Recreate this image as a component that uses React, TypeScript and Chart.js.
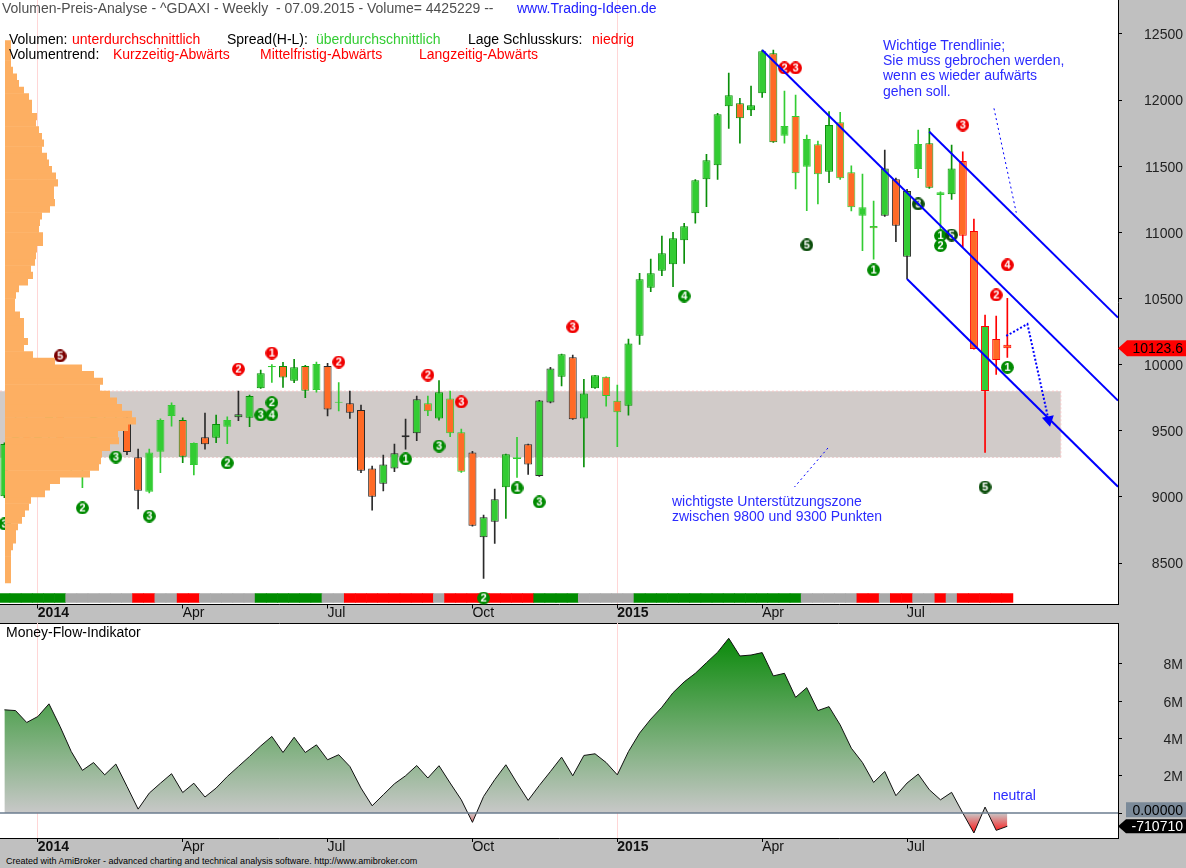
import React, { useEffect, useRef } from 'react';
import { Chart, registerables } from 'chart.js';

Chart.register(...registerables);

const FONT = "'Liberation Sans', Arial, Helvetica, sans-serif";

// ---------- weekly DAX bars, index 0 = week of 16.12.2013 ----------
const weekOpen = [
  9005, 9400, 9589, 9435, 9473, 9742, 9392, 9306, 9301, 9662,
  9657, 9600, 9300, 9039, 9342, 9612, 9581, 9241, 9451, 9448,
  9531, 9602, 9599, 9821, 9980, 9990, 9879, 9990, 9808, 9990,
  9712, 9708, 9657, 9216, 9100, 9216, 9451, 9481, 9708, 9594,
  9745, 9489, 9337, 8695, 8813, 9073, 9300, 9398, 9158, 9715,
  9909, 10056, 9594, 9821, 9909, 9727, 9690, 10219, 10582, 10710,
  10759, 10940, 11144, 11401, 11507, 11953, 11976, 11923, 12052, 12354,
  11731, 11880, 11497, 11666, 11459, 11832, 11454, 11126, 11048, 11126,
  11401, 10816, 11479, 11674, 11283, 11288, 11540, 11010, 9801, 10194,
  10150,
];
const weekHigh = [
  9410, 9600, 9620, 9500, 9790, 9760, 9440, 9330, 9670, 9720,
  9720, 9620, 9362, 9362, 9590, 9712, 9599, 9410, 9634, 9619,
  9606, 9801, 9771, 9960, 10000, 10018, 10040, 9995, 10020, 10010,
  9864, 9801, 9695, 9234, 9317, 9400, 9589, 9763, 9763, 9879,
  9801, 9513, 9345, 8863, 9060, 9325, 9451, 9400, 9730, 9980,
  10080, 10073, 9889, 9920, 9909, 9846, 10194, 10691, 10799, 10973,
  11001, 11069, 11400, 11590, 11900, 12205, 12014, 12107, 12379, 12379,
  12069, 12039, 11736, 11691, 11913, 11908, 11504, 11441, 11237, 11623,
  11410, 11326, 11774, 11787, 11306, 11661, 11610, 11101, 10375, 10368,
  10502,
];
const weekLow = [
  8995, 9380, 9390, 9280, 9440, 9390, 9200, 9070, 9290, 9590,
  9560, 9320, 8909, 9030, 9183, 9536, 9259, 9166, 9362, 9410,
  9403, 9576, 9531, 9820, 9865, 9829, 9864, 9750, 9793, 9612,
  9650, 9594, 9183, 8901, 9045, 9191, 9362, 9425, 9614, 9581,
  9455, 9185, 8780, 8385, 8649, 8838, 9148, 9171, 9155, 9710,
  9839, 9587, 9228, 9820, 9687, 9380, 9619, 10154, 10552, 10673,
  10589, 10766, 11069, 11194, 11401, 11787, 11674, 11882, 12021, 11681,
  11674, 11328, 11164, 11215, 11376, 11400, 11162, 10862, 10797, 11120,
  10930, 10648, 11413, 11333, 11018, 11250, 10892, 10118, 9337, 9927,
  10055,
];
const weekClose = [
  9400, 9589, 9435, 9473, 9742, 9392, 9306, 9301, 9662, 9657,
  9692, 9340, 9047, 9337, 9581, 9695, 9304, 9408, 9398, 9551,
  9581, 9625, 9763, 9935, 9990, 9904, 9980, 9803, 10005, 9662,
  9720, 9637, 9198, 9002, 9246, 9330, 9466, 9738, 9648, 9791,
  9481, 9191, 8782, 8846, 8982, 9322, 9287, 9246, 9730, 9972,
  10078, 9587, 9783, 9920, 9763, 9640, 10161, 10645, 10691, 10842,
  10955, 11046, 11394, 11545, 11893, 12037, 11863, 11961, 12369, 11681,
  11804, 11447, 11706, 11439, 11812, 11409, 11190, 11190, 11031, 11484,
  11051, 11313, 11668, 11338, 11303, 11484, 10975, 10118, 10292, 10035,
  10123.6,
];
// volume/spread class of each bar (outline + wick colour in the original)
const barTone = (
  'G' + 'LLLLLLLLLL' + 'KK' + 'LLL' + 'G' + 'L' + 'K' + 'G' + 'L' + 'K' + 'GG' + 'L' + 'GGG' + 'L' + 'K' + 'L' +
  'KKKKKKK' + 'L' + 'G' + 'LL' + 'KKK' + 'G' + 'L' + 'KKK' + 'G' + 'K' + 'GG' + 'LL' + 'GGGGGGGGGGGGGG' +
  'LLLL' + 'G' + 'LLLL' + 'KKK' + 'L' + 'G' + 'L' + 'G' + 'RRRRR'
).split('');
// trend ribbon state per bar: G = up, N = neutral, R = down
const ribbonState = (
  'GGGGGG' + 'NNNNNN' + 'RR' + 'NN' + 'RR' + 'NNNNN' + 'GGGGGG' + 'NN' + 'RRRRRRRR' + 'N' + 'RRRRRRRR' +
  'GGGG' + 'NNNNN' + 'GGGGGGGGGGGGGGG' + 'NNNNN' + 'RR' + 'N' + 'RR' + 'NN' + 'R' + 'N' + 'RRRRR'
).split('');

// ---------- money flow (one value per weekly bar) ----------
const moneyFlow = [
  5540000, 5500000, 4860000, 5180000, 5860000, 4640000, 3300000, 2290000, 2710000, 2050000,
  2630000, 1430000, 210000, 1070000, 1600000, 2110000, 1100000, 1600000, 860000, 1340000,
  1960000, 2500000, 3040000, 3600000, 4110000, 3250000, 4070000, 3250000, 3660000, 2860000,
  3130000, 2500000, 1340000, 390000, 980000, 1570000, 2000000, 2550000, 1880000, 2540000,
  1610000, 710000, -500000, 890000, 1790000, 2590000, 1610000, 680000, 1480000, 2230000,
  3000000, 2000000, 3090000, 3180000, 2710000, 2050000, 3300000, 4290000, 5040000, 5680000,
  6460000, 7040000, 7500000, 8070000, 8630000, 9380000, 8430000, 8480000, 8610000, 7360000,
  7500000, 6210000, 6730000, 5500000, 5710000, 4730000, 3480000, 2710000, 1640000, 2230000,
  930000, 1610000, 2090000, 1250000, 710000, 1110000, 0, -1070000, 320000, -930000,
  -710710,
];

// ---------- volume-at-price profile (50-point bins from 8350) ----------
const profileBinLow = 8350;
const profileBinSize = 50;
const profileVolume = [
  6, 6, 6, 6, 6, 8, 11, 11, 13, 17,
  20, 24, 26, 40, 45, 55, 85, 94, 96, 97,
  105, 114, 113, 123, 131, 127, 117, 112, 105, 95,
  98, 89, 77, 50, 28, 19, 23, 19, 19, 19,
  15, 10, 10, 11, 14, 23, 28, 26, 30, 31,
  32, 38, 38, 34, 35, 37, 45, 50, 49, 49,
  53, 51, 47, 44, 42, 37, 39, 37, 34, 31,
  32, 27, 27, 24, 19, 14, 12, 8, 6, 6,
  6, 6,
];

// ---------- signal badges ----------
const signalIndex = [0, 5, 7, 10, 13, 20, 21, 23, 24, 24, 24, 30, 36, 38, 39, 41, 43, 46, 48, 51, 61, 70, 71, 72, 78, 82, 84, 85, 84, 86, 88, 89, 90, 90];
const signalPrice = [8796, 10066, 8917, 9302, 8856, 9257, 9967, 9620, 9620, 9713, 10088, 10020, 9287, 9922, 9385, 9718, 8236, 9068, 8962, 10285, 10519, 12243, 12243, 10905, 10716, 11215, 10975, 10980, 10900, 11812, 9075, 10527, 10754, 9980];
const signalDigit = ['3', '5', '2', '3', '3', '2', '2', '3', '4', '2', '1', '2', '1', '2', '3', '3', '2', '1', '3', '3', '4', '2', '3', '5', '1', '3', '1', '5', '2', '3', '5', '2', '4', '1'];
const signalKind = ['G', 'M', 'G', 'G', 'G', 'G', 'R', 'G', 'G', 'G', 'R', 'R', 'G', 'R', 'G', 'R', 'G', 'G', 'G', 'R', 'G', 'R', 'R', 'D', 'G', 'D', 'G', 'D', 'G', 'R', 'D', 'R', 'R', 'G'];

// ---------- drawn lines (bar index, price) ----------
const trendMid = [[68, 12379], [99.93, 9729]];
const trendUpper = [[83, 11761], [99.93, 10356]];
const trendLower = [[81, 10648], [99.93, 9077]];
const guideNote = [[88.8, 11938], [90.8, 11149]];
const guideZone = [[73.9, 9370], [70.9, 9075]];
const guideArrow = [[89.9, 10217], [91.8, 10308], [93.7, 9582]];
const zoneHigh = 9800;
const zoneLow = 9300;
const zoneEnd = 94.8;

// ---------- axes ----------
const axisTickIndex = [3, 16, 29, 42, 55, 68, 81];
const axisTickLabels = ['2014', 'Apr', 'Jul', 'Oct', '2015', 'Apr', 'Jul'];
const yearTickIndex = [3, 55];
const priceTicks = [8500, 9000, 9500, 10000, 10500, 11000, 11500, 12000, 12500];
const flowTicks = [0, 2000000, 4000000, 6000000, 8000000];

// ---------- layout / style constants ----------
const X_MIN = -0.395;
const X_MAX = 99.93;
const P_MIN = 8187;
const P_MAX = 12757;
const RIBBON_LOW = 8201;
const RIBBON_HIGH = 8272;
const UP = '#33cc33';
const DOWN = '#ff6a26';
const TONE: Record<string, string> = { L: '#33cc33', G: '#0a8f0a', K: '#2b2b2b', R: '#ff0000' };
const RIBBON: Record<string, string> = { G: '#008c00', N: '#a9a9a9', R: '#ff0000' };
const BADGE: Record<string, string> = { G: '#008a00', D: '#0b4d0b', R: '#f00000', M: '#7a0000' };
const BLUE = '#0000ff';

const pts = (p: number[][]) => p.map(([x, y]) => ({ x, y }));

const badgeCache: Record<string, HTMLCanvasElement> = {};
function badge(digit: string, kind: string) {
  const key = digit + kind;
  if (badgeCache[key]) return badgeCache[key];
  const c = document.createElement('canvas');
  c.width = 13;
  c.height = 13;
  const g = c.getContext('2d')!;
  g.fillStyle = BADGE[kind];
  g.beginPath();
  g.arc(6.5, 6.5, 6.4, 0, Math.PI * 2);
  g.fill();
  g.fillStyle = '#ffffff';
  g.font = `bold 11px ${FONT}`;
  g.textAlign = 'center';
  g.textBaseline = 'middle';
  g.fillText(digit, 6.5, 7);
  badgeCache[key] = c;
  return c;
}

function panelBg(topBorder: boolean) {
  return {
    id: 'panelBg',
    beforeDraw(chart: any) {
      const { ctx, chartArea: a } = chart;
      ctx.save();
      ctx.fillStyle = '#ffffff';
      ctx.fillRect(a.left, a.top, a.right - a.left, a.bottom - a.top);
      if (topBorder) {
        ctx.strokeStyle = '#000';
        ctx.lineWidth = 1;
        ctx.beginPath();
        ctx.moveTo(a.left, a.top + 0.5);
        ctx.lineTo(a.right, a.top + 0.5);
        ctx.stroke();
      }
      ctx.restore();
    },
  };
}

type Tag = { value: number; shift?: number; text: string; tip: number; box: number; right: number; h: number; bg: string; fg: string; textX: number };

function valueTags(tags: Tag[]) {
  return {
    id: 'valueTags',
    afterDraw(chart: any) {
      const { ctx } = chart;
      const ys = chart.scales.y;
      for (const t of tags) {
        const yc = ys.getPixelForValue(t.value) + (t.shift || 0);
        const top = yc - t.h / 2;
        ctx.save();
        ctx.fillStyle = t.bg;
        ctx.beginPath();
        ctx.moveTo(t.tip, yc);
        ctx.lineTo(t.box, top);
        ctx.lineTo(t.right, top);
        ctx.lineTo(t.right, top + t.h);
        ctx.lineTo(t.box, top + t.h);
        ctx.closePath();
        ctx.fill();
        ctx.fillStyle = t.fg;
        ctx.font = `14px ${FONT}`;
        ctx.textAlign = 'right';
        ctx.textBaseline = 'middle';
        ctx.fillText(t.text, t.textX, yc + 1);
        ctx.restore();
      }
    },
  };
}

function xAxis(height: number, pad: number) {
  return {
    type: 'linear',
    min: X_MIN,
    max: X_MAX,
    bounds: 'data',
    offset: false,
    grid: {
      offset: false,
      drawOnChartArea: true,
      drawTicks: true,
      tickLength: 4,
      tickColor: '#000',
      color: (c: any) => (c.tick && yearTickIndex.includes(c.tick.value) ? '#ffd6d6' : 'rgba(0,0,0,0)'),
    },
    border: { display: true, color: '#000', width: 1 },
    afterBuildTicks: (s: any) => {
      s.ticks = axisTickIndex.map((v) => ({ value: v }));
    },
    afterFit: (s: any) => {
      s.height = height;
      s.paddingLeft = 0;
      s.paddingRight = 0;
    },
    ticks: {
      autoSkip: false,
      maxRotation: 0,
      minRotation: 0,
      align: 'start',
      padding: pad,
      color: '#111',
      font: (c: any) => ({
        family: FONT,
        size: 14,
        weight: c.tick && yearTickIndex.includes(c.tick.value) ? 'bold' : 'normal',
      }),
      callback: (_v: any, i: number) => axisTickLabels[i],
    },
  };
}

function yAxis(min: number, max: number, ticks: number[], fmt: (v: number) => string) {
  return {
    type: 'linear',
    position: 'right',
    min,
    max,
    bounds: 'data',
    grid: { drawOnChartArea: false, drawTicks: true, tickLength: 4, tickColor: '#000' },
    border: { display: true, color: '#000', width: 1 },
    afterBuildTicks: (s: any) => {
      s.ticks = ticks.map((v) => ({ value: v }));
    },
    ticks: {
      autoSkip: false,
      crossAlign: 'far',
      padding: 4,
      labelOffset: 1.5,
      color: '#222',
      font: { family: FONT, size: 14 },
      callback: (v: number) => fmt(v),
    },
    afterFit: (s: any) => {
      s.width = 65;
      s.paddingTop = 0;
      s.paddingBottom = 0;
    },
  };
}

function topConfig(): any {
  const idx = weekClose.map((_, i) => i);
  const zoneBorder = { borderColor: '#f5c6c6', borderWidth: 1, borderDash: [2, 2], pointRadius: 0 };
  const last = weekClose[weekClose.length - 1];
  return {
    type: 'bar',
    data: {
      datasets: [
        { type: 'line', data: pts([[X_MIN, zoneHigh], [zoneEnd, zoneHigh]]), fill: '+1', backgroundColor: '#d1cbc9', ...zoneBorder, order: 30 },
        { type: 'line', data: pts([[X_MIN, zoneLow], [zoneEnd, zoneLow]]), fill: false, ...zoneBorder, order: 30 },
        { type: 'line', data: pts([[zoneEnd, zoneLow], [zoneEnd, zoneHigh]]), fill: false, ...zoneBorder, order: 29 },
        {
          type: 'bar',
          data: idx.map((i) => ({ x: i, y: [RIBBON_LOW, RIBBON_HIGH] })),
          backgroundColor: ribbonState.map((s) => RIBBON[s]),
          borderWidth: 0,
          barPercentage: 1.06,
          categoryPercentage: 1,
          grouped: false,
          order: 20,
        },
        {
          type: 'bar',
          data: idx.map((i) => ({ x: i, y: [weekLow[i], weekHigh[i]] })),
          backgroundColor: barTone.map((t) => TONE[t]),
          borderWidth: 0,
          barThickness: 1,
          grouped: false,
          order: 12,
        },
        {
          type: 'bar',
          data: idx.map((i) => ({ x: i, y: [weekOpen[i], weekClose[i]] })),
          backgroundColor: idx.map((i) => (weekClose[i] >= weekOpen[i] ? UP : DOWN)),
          borderColor: barTone.map((t) => TONE[t]),
          borderWidth: 1,
          borderSkipped: false,
          barPercentage: 0.72,
          categoryPercentage: 1,
          grouped: false,
          order: 11,
        },
        {
          type: 'scatter',
          data: signalIndex.map((x, k) => ({ x, y: signalPrice[k] })),
          pointStyle: signalIndex.map((_, k) => badge(signalDigit[k], signalKind[k])),
          pointRadius: 6,
          order: 6,
        },
        { type: 'line', data: pts(trendMid), borderColor: BLUE, borderWidth: 2, pointRadius: 0, fill: false, order: 4 },
        { type: 'line', data: pts(trendUpper), borderColor: BLUE, borderWidth: 2, pointRadius: 0, fill: false, order: 4 },
        { type: 'line', data: pts(trendLower), borderColor: BLUE, borderWidth: 2, pointRadius: 0, fill: false, order: 4 },
        { type: 'line', data: pts(guideNote), borderColor: BLUE, borderWidth: 1, borderDash: [2, 3], pointRadius: 0, fill: false, order: 4 },
        { type: 'line', data: pts(guideZone), borderColor: BLUE, borderWidth: 1, borderDash: [2, 3], pointRadius: 0, fill: false, order: 4 },
        {
          type: 'line',
          data: pts(guideArrow),
          borderColor: BLUE,
          borderWidth: 2,
          borderDash: [2, 2],
          pointRadius: [0, 0, 5],
          pointStyle: 'triangle',
          pointRotation: [0, 0, 168],
          pointBackgroundColor: BLUE,
          pointBorderColor: BLUE,
          fill: false,
          order: 4,
        },
        {
          type: 'bar',
          indexAxis: 'y',
          xAxisID: 'xv',
          yAxisID: 'yv',
          data: profileVolume.map((v, k) => ({ x: v, y: profileBinLow + profileBinSize * (k + 0.5) })),
          backgroundColor: '#fdaf62',
          borderWidth: 0,
          barPercentage: 1.08,
          categoryPercentage: 1,
          grouped: false,
          order: 1,
        },
      ],
    },
    options: {
      responsive: false,
      animation: false,
      devicePixelRatio: 1,
      events: [],
      layout: { padding: { top: 0, left: 0, bottom: 0, right: 3 }, autoPadding: false },
      plugins: { legend: { display: false }, tooltip: { enabled: false } },
      scales: {
        x: xAxis(17.5, -3.4),
        y: yAxis(P_MIN, P_MAX, priceTicks, (v) => String(v)),
        xv: { type: 'linear', display: false, min: -5, max: 1113, bounds: 'data', offset: false },
        yv: { type: 'linear', display: false, min: P_MIN, max: P_MAX, bounds: 'data', offset: false, grid: { offset: false } },
      },
    },
    plugins: [
      panelBg(false),
      valueTags([{ value: last, text: last.toFixed(1), tip: 1118, box: 1127, right: 1186, h: 16, bg: '#ff0000', fg: '#000', textX: 1183 }]),
    ],
  };
}

function botConfig(): any {
  const top = Math.max(...moneyFlow);
  const bottom = Math.min(...moneyFlow);
  const last = moneyFlow[moneyFlow.length - 1];
  const mfFill = (c: any) => {
    const chart = c.chart;
    if (!chart.chartArea) return 'rgba(0,0,0,0)';
    const ys = chart.scales.y;
    const yTop = ys.getPixelForValue(top);
    const yZero = ys.getPixelForValue(0);
    const yBot = ys.getPixelForValue(bottom);
    const g = chart.ctx.createLinearGradient(0, yTop, 0, yBot);
    const f = (yZero - yTop) / (yBot - yTop);
    g.addColorStop(0, '#0a8a0a');
    g.addColorStop(f, '#c8c8c8');
    g.addColorStop(1, '#ff1010');
    return g;
  };
  return {
    type: 'line',
    data: {
      datasets: [
        {
          data: moneyFlow.map((v, i) => ({ x: i, y: v })),
          borderColor: '#111',
          borderWidth: 1,
          fill: 'origin',
          backgroundColor: mfFill,
          pointRadius: 0,
          tension: 0,
          order: 5,
        },
        {
          data: pts([[X_MIN, 0], [X_MAX, 0]]),
          borderColor: '#6b7d8f',
          borderWidth: 1.5,
          pointRadius: 0,
          fill: false,
          order: 1,
        },
      ],
    },
    options: {
      responsive: false,
      animation: false,
      devicePixelRatio: 1,
      events: [],
      layout: { padding: { top: 1, left: 0, right: 3, bottom: 0 }, autoPadding: false },
      plugins: { legend: { display: false }, tooltip: { enabled: false } },
      scales: {
        x: xAxis(16, -3.7),
        y: yAxis(-1340000, 10200000, flowTicks, (v) => (v === 0 ? '' : `${v / 1000000}M`)),
      },
    },
    plugins: [
      panelBg(true),
      valueTags([
        { value: 0, shift: -3.3, text: '0.00000', tip: 1126, box: 1126, right: 1186, h: 15, bg: '#7b8a99', fg: '#000', textX: 1183 },
        { value: last, text: String(last), tip: 1118, box: 1126, right: 1186, h: 14, bg: '#000', fg: '#fff', textX: 1183 },
      ]),
    ],
  };
}

function T(props: { x: number; y: number; color?: string; size?: number; lh?: number; children: any }) {
  const { x, y, color = '#000', size = 14, lh = 16, children } = props;
  return (
    <div
      style={{
        position: 'absolute',
        left: x,
        top: y,
        color,
        fontSize: size,
        lineHeight: `${lh}px`,
        whiteSpace: 'pre',
        fontFamily: FONT,
      }}
    >
      {children}
    </div>
  );
}

export default function App() {
  const topRef = useRef<HTMLCanvasElement>(null);
  const botRef = useRef<HTMLCanvasElement>(null);

  useEffect(() => {
    const a = new Chart(topRef.current!, topConfig());
    const b = new Chart(botRef.current!, botConfig());
    return () => {
      a.destroy();
      b.destroy();
    };
  }, []);

  const NOTE = '#2b2bff';
  const RED = '#ff0000';
  return (
    <div style={{ position: 'fixed', left: 0, top: 0, width: 1186, height: 868, background: '#c0c0c0', overflow: 'hidden' }}>
      <canvas ref={topRef} width={1186} height={622} style={{ position: 'absolute', left: 0, top: 0, width: 1186, height: 622 }} />
      <canvas ref={botRef} width={1186} height={232} style={{ position: 'absolute', left: 0, top: 622, width: 1186, height: 232 }} />

      <T x={2} y={0} color="#4f4f4f">{'Volumen-Preis-Analyse - ^GDAXI - Weekly  - 07.09.2015 - Volume= 4425229 --'}</T>
      <T x={517} y={0} color="#2020ff">www.Trading-Ideen.de</T>

      <T x={9} y={31}>Volumen:</T>
      <T x={72} y={31} color={RED}>unterdurchschnittlich</T>
      <T x={227} y={31}>Spread(H-L):</T>
      <T x={316} y={31} color="#33cc33">überdurchschnittlich</T>
      <T x={468} y={31}>Lage Schlusskurs:</T>
      <T x={592} y={31} color={RED}>niedrig</T>

      <T x={9} y={46}>Volumentrend:</T>
      <T x={113} y={46} color={RED}>Kurzzeitig-Abwärts</T>
      <T x={260} y={46} color={RED}>Mittelfristig-Abwärts</T>
      <T x={419} y={46} color={RED}>Langzeitig-Abwärts</T>

      <T x={883} y={38} color={NOTE} lh={15.2}>
        {'Wichtige Trendlinie;\nSie muss gebrochen werden,\nwenn es wieder aufwärts\ngehen soll.'}
      </T>
      <T x={672} y={494} color={NOTE} lh={15}>
        {'wichtigste Unterstützungszone\nzwischen 9800 und 9300 Punkten'}
      </T>

      <T x={6} y={624}>Money-Flow-Indikator</T>
      <T x={993} y={787} color={NOTE}>neutral</T>

      <T x={6} y={855} size={9} lh={12}>
        Created with AmiBroker - advanced charting and technical analysis software. http://www.amibroker.com
      </T>
    </div>
  );
}
